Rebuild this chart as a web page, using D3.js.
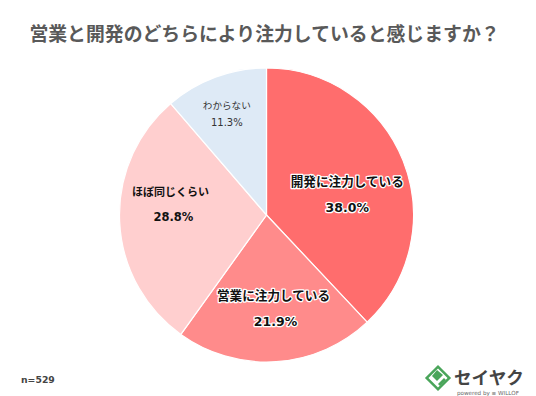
<!DOCTYPE html>
<html lang="ja">
<head>
    <meta charset="UTF-8">
    <title>営業と開発のどちらにより注力していると感じますか？</title>
    <style>
        html, body { margin: 0; padding: 0; background: #fff; }
        svg { display: block; }
        text { font-family: "DejaVu Sans", "Noto Sans CJK JP", sans-serif; }
        .halo { paint-order: stroke; stroke: #fff; stroke-linejoin: round; }
    </style>
</head>
<body>
    <div id="chart"></div>
    <script src="https://d3js.org/d3.v7.min.js"></script>
    <script>
        const categories = ["開発に注力している", "営業に注力している", "ほぼ同じくらい", "わからない"];
        const values = [38.0, 21.9, 28.8, 11.3];
        const colors = ["#ff6d6d", "#ff8b8b", "#ffcfcf", "#deeaf6"];
        const titleText = "営業と開発のどちらにより注力していると感じますか？";
        const noteText = "n=529";

        const width = 536, height = 396;
        const cx = 266.5, cy = 215, radius = 147;

        const svg = d3.select("#chart").append("svg")
            .attr("width", width)
            .attr("height", height);

        svg.append("text")
            .attr("x", 264.5).attr("y", 41)
            .attr("text-anchor", "middle")
            .attr("font-size", 18.85)
            .attr("font-weight", 700)
            .attr("fill", "#595959")
            .text(titleText);

        // Pie
        const pie = d3.pie().sort(null).value(d => d);
        const arc = d3.arc().innerRadius(0).outerRadius(radius);
        const arcs = pie(values);
        const g = svg.append("g").attr("transform", `translate(${cx}, ${cy})`);

        g.selectAll("path")
            .data(arcs)
            .enter()
            .append("path")
            .attr("d", arc)
            .attr("fill", (d, i) => colors[i])
            .attr("stroke", "#fff")
            .attr("stroke-width", 1.2);

        // Labels sit on a ring inside the slices, then nudged by hand
        const labelArc = d3.arc().innerRadius(radius * 0.62).outerRadius(radius * 0.62);
        const labelStyle = [
            { size: 12.6, pct: 12.5, gap: 25, halo: 2.5, color: "#111", dx: -4, dy: 14, pctDx: 0 },
            { size: 12.6, pct: 12.5, gap: 25, halo: 2.5, color: "#111", dx: 1, dy: 3.5, pctDx: 2 },
            { size: 11, pct: 11.5, gap: 24, halo: 0, color: "#111", dx: -5, dy: -14, pctDx: 3 },
            { size: 9.6, pct: 10, gap: 16, halo: 0, color: "#333", dx: -8, dy: -16, pctDx: 0 }
        ];

        arcs.forEach((d, i) => {
            const c = labelArc.centroid(d);
            const s = labelStyle[i];
            const lg = g.append("g").attr("transform", `translate(${c[0] + s.dx}, ${c[1] + s.dy})`);
            lg.append("text")
                .attr("class", s.halo ? "halo" : null)
                .attr("stroke-width", s.halo)
                .attr("text-anchor", "middle")
                .attr("y", -s.gap / 2 + 3)
                .attr("font-size", s.size)
                .attr("font-weight", i === 3 ? 400 : 700)
                .attr("fill", s.color)
                .text(categories[i]);
            lg.append("text")
                .attr("class", s.halo ? "halo" : null)
                .attr("stroke-width", s.halo)
                .attr("text-anchor", "middle")
                .attr("x", s.pctDx)
                .attr("y", s.gap / 2 + 4)
                .attr("font-size", s.pct)
                .attr("font-weight", i === 3 ? 400 : 700)
                .attr("fill", s.color)
                .text(values[i].toFixed(1) + "%");
        });

        svg.append("text")
            .attr("x", 21).attr("y", 383)
            .attr("font-size", 9.3)
            .attr("font-weight", 700)
            .attr("fill", "#444")
            .text(noteText);

        // Logo
        const logo = svg.append("g").attr("transform", "translate(438, 378)");
        logo.append("rect")
            .attr("x", -8).attr("y", -8).attr("width", 16).attr("height", 16)
            .attr("transform", "rotate(45)")
            .attr("fill", "#fff").attr("stroke", "#4aa55a").attr("stroke-width", 2.5);
        logo.append("path")
            .attr("d", "M-6,-2 L-1,-8 L5,-3 L-1,3 Z")
            .attr("fill", "#4aa55a");
        logo.append("path")
            .attr("d", "M0,6 L6,0 L8,2 L2,8 Z")
            .attr("fill", "#4aa55a");
        svg.append("text")
            .attr("x", 454).attr("y", 384)
            .attr("font-size", 17.6)
            .attr("font-weight", 700)
            .attr("fill", "#444")
            .style("font-family", '"Noto Sans CJK JP"')
            .text("セイヤク");
        svg.append("text")
            .attr("x", 457).attr("y", 395)
            .attr("font-size", 5.6)
            .attr("font-weight", 400)
            .attr("fill", "#666")
            .text("powered by ≡ WILLOF");
    </script>
</body>
</html>
